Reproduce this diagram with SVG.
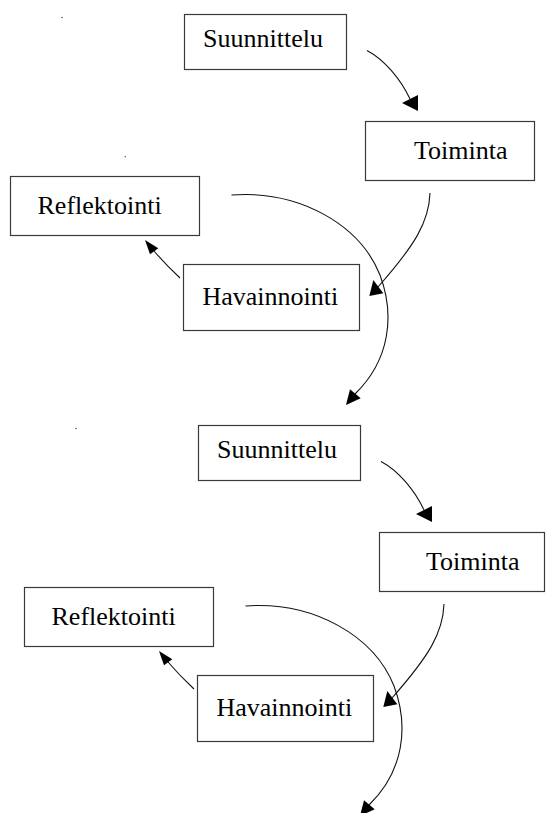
<svg xmlns="http://www.w3.org/2000/svg" width="546" height="813" viewBox="0 0 546 813">
  <style>
    .box { fill: #ffffff; stroke: #3a3a3a; stroke-width: 1.2; }
    .lbl { font-family: "Liberation Serif", "Times New Roman", serif; font-size: 26px; fill: #000; }
    .ln { fill: none; stroke: #111; stroke-width: 1.1; }
    .ah { fill: #000; stroke: none; }
    .dot { fill: #555; }
  </style>
  <rect x="0" y="0" width="546" height="813" fill="#ffffff"/>

  <!-- stray dots -->
  <circle class="dot" cx="62" cy="17.5" r="0.8"/>
  <circle class="dot" cx="125.3" cy="156.7" r="0.8"/>
  <circle class="dot" cx="76" cy="428.5" r="0.8"/>

  <!-- Cycle 1 nodes -->
  <g id="suunnittelu1">
    <rect class="box" x="184.5" y="14.5" width="162" height="55"/>
    <text class="lbl" x="203" y="46.5">Suunnittelu</text>
  </g>
  <g id="toiminta1">
    <rect class="box" x="365.5" y="121.5" width="169" height="59"/>
    <text class="lbl" x="414" y="158.5">Toiminta</text>
  </g>
  <g id="reflektointi1">
    <rect class="box" x="10.5" y="176.5" width="189" height="59"/>
    <text class="lbl" x="37.5" y="213.5">Reflektointi</text>
  </g>
  <g id="havainnointi1">
    <rect class="box" x="183.5" y="264.5" width="176" height="66"/>
    <text class="lbl" x="202.5" y="304.5">Havainnointi</text>
  </g>

  <!-- Cycle 2 nodes -->
  <g id="suunnittelu2" transform="translate(14,411)">
    <rect class="box" x="184.5" y="14.5" width="162" height="55"/>
    <text class="lbl" x="203" y="46.5">Suunnittelu</text>
  </g>
  <g id="toiminta2" transform="translate(14,411)">
    <rect class="box" x="365.5" y="121.5" width="165" height="59"/>
    <text class="lbl" x="412" y="158.5">Toiminta</text>
  </g>
  <g id="reflektointi2" transform="translate(14,411)">
    <rect class="box" x="10.5" y="176.5" width="189" height="59"/>
    <text class="lbl" x="37.5" y="213.5">Reflektointi</text>
  </g>
  <g id="havainnointi2" transform="translate(14,411)">
    <rect class="box" x="183.5" y="264.5" width="176" height="66"/>
    <text class="lbl" x="202.5" y="304.5">Havainnointi</text>
  </g>

  <!-- Connectors -->
  <g id="connectors">
    <g id="connectors1">
      <path class="ln" d="M367,50.5 C385,60 401,80 410,99"/>
      <polygon class="ah" points="402,103 418,95 418,111"/>
      <path class="ln" d="M430,193 C429,222 415,245 378,287"/>
      <polygon class="ah" points="369.3,296 373.3,280 383.3,293.3"/>
      <path class="ln" d="M180,278 Q166,265 154,251"/>
      <polygon class="ah" points="145,240 158.3,248.3 150,254.3"/>
      <path class="ln" d="M231.5,195 C300,190 360,225 380,275 C395,315 390,360 355,394"/>
      <polygon class="ah" points="346,405 350,389.3 360.7,398.3"/>
    </g>
    <g id="connectors2" transform="translate(14,411)">
      <path class="ln" d="M367,50.5 C385,60 401,80 410,99"/>
      <polygon class="ah" points="402,103 418,95 418,111"/>
      <path class="ln" d="M430,193 C429,222 415,245 378,287"/>
      <polygon class="ah" points="369.3,296 373.3,280 383.3,293.3"/>
      <path class="ln" d="M180,278 Q166,265 154,251"/>
      <polygon class="ah" points="145,240 158.3,248.3 150,254.3"/>
      <path class="ln" d="M231.5,195 C300,190 360,225 380,275 C395,315 390,360 355,394"/>
      <polygon class="ah" points="346,405 350,389.3 360.7,398.3"/>
    </g>
  </g>
</svg>
